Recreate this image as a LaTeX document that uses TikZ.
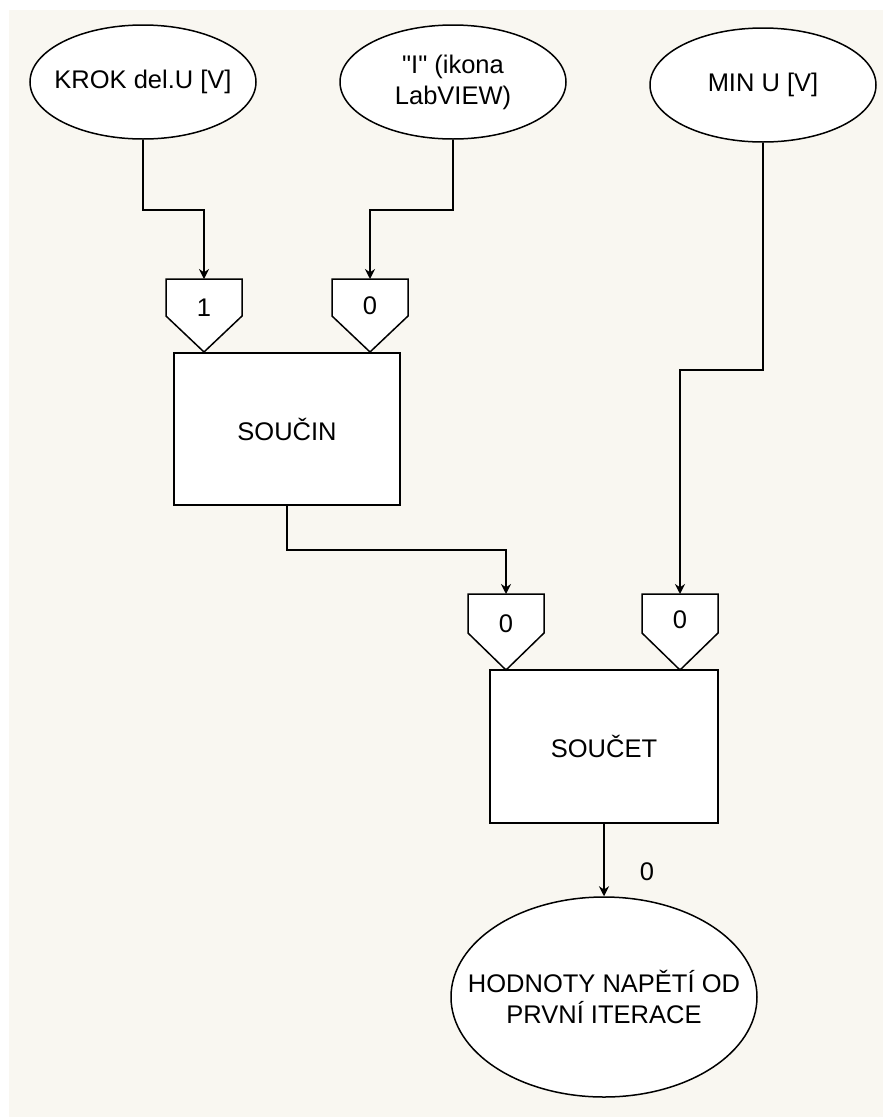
\documentclass[tikz,border=0pt]{standalone}
\usepackage{fontspec}
\setmainfont{Liberation Sans}
\usetikzlibrary{shapes.geometric,arrows.meta}
\definecolor{pozadi}{RGB}{249,247,241}

\begin{document}
\begin{tikzpicture}[x=1pt,y=-1pt,
  every node/.style={font=\fontsize{25.5}{31}\selectfont, align=center},
  zdroj/.style={ellipse, draw, line width=1.5pt, fill=white, minimum width=226pt, minimum height=114pt},
  blok/.style={rectangle, draw, line width=2pt, fill=white, minimum width=226pt, minimum height=152pt},
  vstup/.style={draw, line width=1.5pt, fill=white, line join=miter},
  spoj/.style={line width=2pt, -{Stealth[length=10pt,width=10pt]}}]
\useasboundingbox (0,0) rectangle (883,1117);
\fill[pozadi] (9,10) rectangle (883,1117);
% zdroje
\node[zdroj, label=center:{KROK del.U [V]}] (krok) at (143,82) {};
\node[zdroj, label=center:{\textquotedbl I\textquotedbl{} (ikona\\LabVIEW)}] (ikona) at (453,82) {};
\node[zdroj, label=center:{MIN U [V]}] (minu) at (763,85) {};
% bloky
\node[blok] (soucin) at (287,429) {SOUČIN};
\node[blok, minimum width=228pt, minimum height=153pt] (soucet) at (604,746.5) {SOUČET};
% vstupy
\draw[vstup] (166,279) -- (242,279) -- (242,316) -- (204,352) -- (166,316) -- cycle;
\draw[vstup] (332,279) -- (408,279) -- (408,316) -- (370,352) -- (332,316) -- cycle;
\draw[vstup] (468,594) -- (544,594) -- (544,633) -- (506,670) -- (468,633) -- cycle;
\draw[vstup] (642,594) -- (718,594) -- (718,633) -- (680,670) -- (642,633) -- cycle;
\coordinate (p1) at (204,279);
\coordinate (p2) at (370,279);
\coordinate (p3) at (506,594);
\coordinate (p4) at (680,594);
\node (p1t) at (204,308) {1};
\node (p2t) at (370,306) {0};
\node (p3t) at (506,624) {0};
\node (p4t) at (680,620) {0};
% vystup
\node[zdroj, minimum width=306pt, minimum height=200pt, label=center:{HODNOTY NAPĚTÍ OD\\PRVNÍ ITERACE}] (hodnoty) at (604,997) {};
% spoje
\draw[spoj] (krok.south) -- ++(0,70) -| (p1);
\draw[spoj] (ikona.south) -- ++(0,70) -| (p2);
\draw[spoj] (soucin.south) -- ++(0,44) -| (p3);
\draw[spoj] (minu.south) -- ++(0,227) -| (p4);
\draw[spoj] (soucet.south) -- (hodnoty.north) node[pos=0.66, xshift=43pt] {0};
\end{tikzpicture}
\end{document}
